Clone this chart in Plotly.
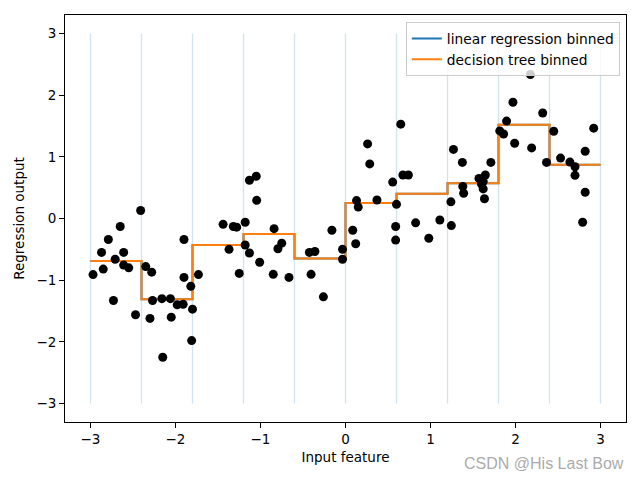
import numpy as np
import plotly.graph_objects as go

# data points
X = [-2.97, -2.87, -2.85, -2.79, -2.73, -2.71, -2.65, -2.61, -2.61, -2.55,
     -2.47, -2.41, -2.35, -2.30, -2.28, -2.27, -2.16, -2.15, -2.06, -2.05,
     -1.98, -1.91, -1.90, -1.90, -1.82, -1.80, -1.81, -1.73, -1.44, -1.37,
     -1.32, -1.28, -1.25, -1.18, -1.18, -1.13, -1.13, -1.05, -1.045, -1.01,
     -0.85, -0.84, -0.795, -0.75, -0.665, -0.425, -0.405, -0.36, -0.26, -0.16,
     -0.035, -0.035, 0.085, 0.12, 0.13, 0.15, 0.26, 0.285, 0.37, 0.555,
     0.59, 0.59, 0.60, 0.65, 0.675, 0.74, 0.825, 0.98, 1.11, 1.24,
     1.245, 1.27, 1.375, 1.38, 1.39, 1.57, 1.62, 1.62, 1.645, 1.635,
     1.71, 1.815, 1.86, 1.895, 1.97, 1.99, 2.175, 2.19, 2.32, 2.365,
     2.45, 2.53, 2.64, 2.70, 2.70, 2.79, 2.82, 2.82, 2.92, 1.60]
Y = [-0.91, -0.55, -0.82, -0.34, -1.33, -0.66, -0.13, -0.55, -0.755, -0.80,
     -1.56, 0.13, -0.78, -1.62, -0.87, -1.33, -1.30, -2.25, -1.30, -1.60,
     -1.40, -1.39, -0.34, -0.955, -1.10, -1.47, -1.98, -0.91, -0.095, -0.50,
     -0.13, -0.14, -0.89, -0.06, -0.43, 0.62, -0.56, 0.685, 0.295, -0.71,
     -0.905, -0.165, -0.49, -0.40, -0.955, -0.55, -0.905, -0.535, -1.27, -0.19,
     -0.50, -0.66, -0.19, -0.41, 0.29, 0.185, 1.21, 0.885, 0.30, 0.59,
     -0.35, -0.13, 0.23, 1.53, 0.705, 0.705, -0.07, -0.32, -0.025, 0.27,
     -0.115, 1.12, 0.91, 0.52, 0.41, 0.65, 0.60, 0.48, 0.705, 0.32,
     0.91, 1.42, 1.37, 1.58, 1.885, 1.22, 2.335, 1.145, 1.71, 0.91,
     1.415, 0.98, 0.915, 0.84, 0.70, -0.06, 1.09, 0.425, 1.465, 0.56]

bin_edges = [-3.0, -2.4, -1.8, -1.2, -0.6, 0.0, 0.6, 1.2, 1.8, 2.4, 3.0]
lr_bin_values = [-0.69, -1.31, -0.43, -0.25, -0.65, 0.25, 0.40, 0.57, 1.52, 0.87]
tree_bin_values = [-0.69, -1.31, -0.43, -0.25, -0.65, 0.25, 0.40, 0.57, 1.52, 0.87]
tick_values = [-3, -2, -1, 0, 1, 2, 3]

fig = go.Figure()

# vertical bin edge lines
vx, vy = [], []
for e in bin_edges:
    vx += [e, e, None]
    vy += [-3, 3, None]
fig.add_trace(go.Scatter(x=vx, y=vy, mode="lines", showlegend=False,
                         line=dict(color="rgba(31,119,180,0.2)", width=1.3),
                         hoverinfo="skip"))

fig.add_trace(go.Scatter(x=bin_edges, y=lr_bin_values + [lr_bin_values[-1]],
                         mode="lines", line_shape="hv",
                         name="linear regression binned",
                         line=dict(color="#1f77b4", width=2)))
fig.add_trace(go.Scatter(x=bin_edges, y=tree_bin_values + [tree_bin_values[-1]],
                         mode="lines", line_shape="hv",
                         name="decision tree binned",
                         line=dict(color="#ff7f0e", width=2)))

fig.add_trace(go.Scatter(x=X, y=Y, mode="markers", showlegend=False,
                         marker=dict(color="black", size=9)))

axis_common = dict(showgrid=False, zeroline=False, showline=True, linecolor="black",
                   linewidth=1, mirror=True, ticks="outside", ticklen=5,
                   tickcolor="black", tickfont=dict(size=13.5, color="black"),
                   tickvals=tick_values, automargin=False)

fig.update_xaxes(range=[-3.3, 3.3], title=dict(text="Input feature", font=dict(size=13.5, color="black"), standoff=6), **axis_common)
fig.update_yaxes(range=[-3.3, 3.3], title=dict(text="Regression output", font=dict(size=13.5, color="black"), standoff=8), **axis_common)

fig.add_annotation(text="CSDN @His Last Bow", xref="paper", yref="paper",
                   x=1.0, y=-0.103, xanchor="right", yanchor="middle", showarrow=False,
                   font=dict(size=16, color="rgba(160,160,160,0.9)", family="Liberation Sans Narrow, Liberation Sans"))

# page body has an 8px margin: the figure is sized so the plot lands where the reference has it
fig.update_layout(
    width=632, height=472,
    margin=dict(l=57, r=14, t=7, b=58),
    plot_bgcolor="white", paper_bgcolor="white",
    font=dict(family="DejaVu Sans", size=13.5, color="black"),
    legend=dict(x=0.989, y=0.983, xanchor="right", yanchor="top",
                bgcolor="rgba(255,255,255,0.8)", bordercolor="#cccccc", borderwidth=1,
                font=dict(size=13.8), tracegroupgap=0, itemwidth=30),
    showlegend=True,
)

fig.write_html("out.html")
